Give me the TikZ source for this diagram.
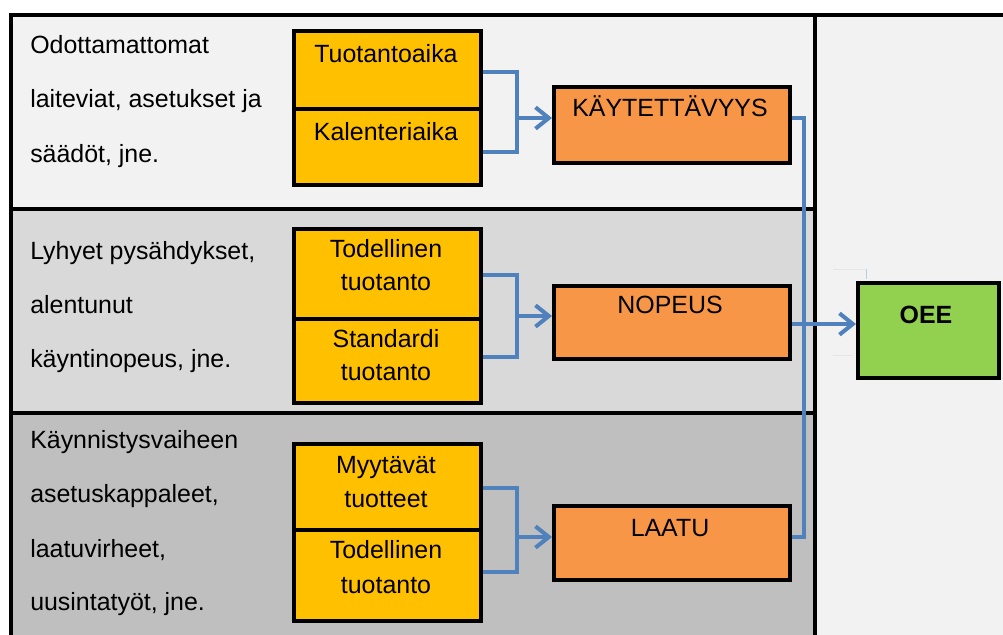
\documentclass[tikz,border=0pt]{standalone}
\usepackage{fontspec}
\setmainfont{Liberation Sans}
\usetikzlibrary{arrows.meta}
\definecolor{bandA}{HTML}{F2F2F2}
\definecolor{bandB}{HTML}{D9D9D9}
\definecolor{bandC}{HTML}{BFBFBF}
\definecolor{yel}{HTML}{FFC000}
\definecolor{ora}{HTML}{F79646}
\definecolor{grn}{HTML}{92D050}
\definecolor{blu}{HTML}{4F81BD}
\begin{document}
\begin{tikzpicture}[x=0.75pt,y=-0.75pt,
  frame/.style={black,line width=3pt},
  box/.style={draw=black,line width=3pt,inner sep=0pt,anchor=north west},
  ybox/.style={box,fill=yel,minimum width=140.25pt},
  obox/.style={box,fill=ora,minimum width=177pt},
  gbox/.style={box,fill=grn,minimum width=105.75pt,minimum height=71.25pt},
  txt/.style={inner sep=0pt,font=\fontsize{18.7pt}{22pt}\selectfont},
  ltxt/.style={txt,anchor=base west},
  ctxt/.style={txt,anchor=base},
  conn/.style={blu,line width=3pt},
  arr/.style={conn,-{Straight Barb[length=10pt,width=16pt]}},
  faint/.style={gray!20,line width=0.75pt}]
\useasboundingbox (0,0) rectangle (1003,635);
\fill[white] (0,0) rectangle (1003,635);
% bands
\fill[bandA] (11,15) rectangle (815,209);
\fill[bandB] (11,209) rectangle (815,413);
\fill[bandC] (11,413) rectangle (815,635);
\fill[bandA] (815,15) rectangle (1003,635);
\draw[frame] (11,635) -- (11,15) -- (1003,15);
\draw[frame] (815,15) -- (815,635);
\draw[frame] (11,209) -- (815,209);
\draw[frame] (11,413) -- (815,413);
% left texts
\node[ltxt] (l1) at (30,54) {Odottamattomat};
\node[ltxt] (l2) at (30,108) {laiteviat, asetukset ja};
\node[ltxt] (l3) at (30,162) {säädöt, jne.};
\node[ltxt] (l4) at (30,259) {Lyhyet pysähdykset,};
\node[ltxt] (l5) at (30,313) {alentunut};
\node[ltxt] (l6) at (30,367) {käyntinopeus, jne.};
\node[ltxt] (l7) at (30,448) {Käynnistysvaiheen};
\node[ltxt] (l8) at (30,502) {asetuskappaleet,};
\node[ltxt] (l9) at (30,557) {laatuvirheet,};
\node[ltxt] (l10) at (30,610) {uusintatyöt, jne.};
% yellow boxes
\node[ybox,minimum height=58.5pt] (t1) at (292,29) {};
\node[ybox,minimum height=57pt] (t2) at (292,107) {};
\node[ybox,minimum height=67.5pt] (m1) at (292,227) {};
\node[ybox,minimum height=63pt] (m2) at (292,317) {};
\node[ybox,minimum height=64.5pt] (b1) at (292,442) {};
\node[ybox,minimum height=68.25pt] (b2) at (292,528) {};
\node[ctxt] (t1a) at (386,63) {Tuotantoaika};
\node[ctxt] (t2a) at (386,140) {Kalenteriaika};
\node[ctxt] (m1a) at (386,257) {Todellinen};
\node[ctxt] (m1b) at (386,290) {tuotanto};
\node[ctxt] (m2a) at (386,347) {Standardi};
\node[ctxt] (m2b) at (386,380) {tuotanto};
\node[ctxt] (b1a) at (386,473) {Myytävät};
\node[ctxt] (b1b) at (386,507) {tuotteet};
\node[ctxt] (b2a) at (386,558) {Todellinen};
\node[ctxt] (b2b) at (386,593) {tuotanto};
% orange boxes
\node[obox,minimum height=57pt] (kay) at (552,85) {};
\node[obox,minimum height=54.75pt] (nop) at (552,284) {};
\node[obox,minimum height=55.5pt] (laa) at (552,504) {};
\node[ctxt] (kaya) at (670,117) {KÄYTETTÄVYYS};
\node[ctxt] (nopa) at (670,313) {NOPEUS};
\node[ctxt] (laaa) at (670,536) {LAATU};
% green box
\node[gbox] (oee) at (856,281) {};
\node[ctxt,font=\fontsize{18.7pt}{22pt}\selectfont\bfseries] (oeea) at (926,323) {OEE};
% faint marks near OEE
\draw[faint] (833,269) -- (866,269);
\draw[faint] (833,355) -- (853,355);
\draw[blu!40,line width=0.75pt] (866,269) -- (866,279);
% bracket levels
\coordinate (y1) at (0,72);   \coordinate (y2) at (0,152);
\coordinate (y3) at (0,275);  \coordinate (y4) at (0,357);
\coordinate (y5) at (0,488);  \coordinate (y6) at (0,572);
\coordinate (jt) at (517,118);
\coordinate (jm) at (517,316);
\coordinate (jb) at (517,537);
\draw[conn] (t1.east |- y1) -| (jt) |- (t2.east |- y2);
\draw[conn] (m1.east |- y3) -| (jm) |- (m2.east |- y4);
\draw[conn] (b1.east |- y5) -| (jb) |- (b2.east |- y6);
\draw[arr] (jt) -- (jt -| kay.west);
\draw[arr] (jm) -- (jm -| nop.west);
\draw[arr] (jb) -- (jb -| laa.west);
% bus to OEE
\coordinate (busT) at (804,118);
\coordinate (busB) at (804,537);
\coordinate (busM) at (804,324);
\draw[conn] (kay.east |- busT) -- (busT) -- (busB) -- (laa.east |- busB);
\draw[arr] (nop.east |- busM) -- (oee.west |- busM);
\end{tikzpicture}
\end{document}
